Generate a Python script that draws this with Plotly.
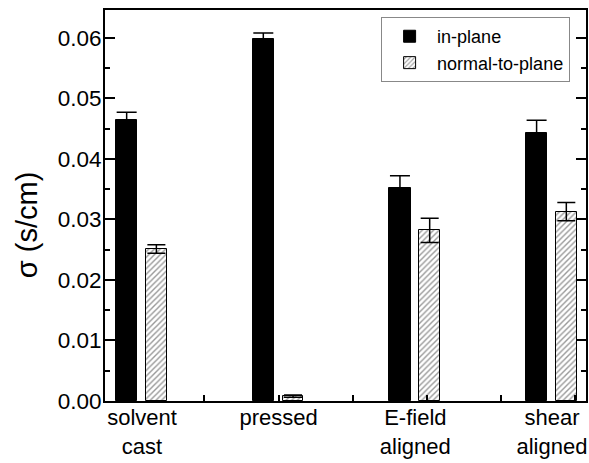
import plotly.graph_objects as go

categories = ["solvent<br>cast", "pressed", "E-field<br>aligned", "shear<br>aligned"]
positions = [1, 2, 3, 4]
in_plane = [0.0465, 0.0598, 0.0352, 0.0443]
in_plane_err = [0.0012, 0.0010, 0.0020, 0.0021]
normal = [0.0251, 0.0008, 0.0282, 0.0313]
normal_err = [0.0007, 0.0002, 0.0020, 0.0015]
ytick_vals = [0.0, 0.01, 0.02, 0.03, 0.04, 0.05, 0.06]

font = "Liberation Sans, Arial, sans-serif"

fig = go.Figure()
fig.add_trace(go.Bar(
    x=positions, y=in_plane, name="in-plane",
    width=0.155, offset=-0.19,
    marker=dict(color="black", line=dict(color="black", width=1)),
    error_y=dict(type="data", array=in_plane_err, color="black", thickness=1.5, width=10),
))
fig.add_trace(go.Bar(
    x=positions, y=normal, name="normal-to-plane",
    width=0.15, offset=0.03,
    marker=dict(color="white", line=dict(color="black", width=1),
                pattern=dict(shape="/", fgcolor="#333333", bgcolor="white", size=4, solidity=0.35)),
    error_y=dict(type="data", array=normal_err, color="black", thickness=1.5, width=9),
))

fig.update_layout(
    width=589, height=463,
    margin=dict(l=105, r=3, t=10, b=62),
    paper_bgcolor="white", plot_bgcolor="white",
    font=dict(family=font, color="black", size=22),
    showlegend=True,
    legend=dict(x=0.574, y=0.982, xanchor="left", yanchor="top",
                bordercolor="#888888", borderwidth=1, bgcolor="white",
                font=dict(size=18, family=font), itemwidth=45,
                tracegroupgap=0),
    bargap=0,
    annotations=[dict(text="σ (s/cm)", textangle=-90, xref="paper", yref="paper",
                      x=-0.162, y=0.45, xanchor="center", yanchor="middle",
                      showarrow=False, font=dict(size=29, family=font, color="black"))],
)
fig.update_xaxes(
    range=[0.729, 4.249], automargin=False,
    tickmode="array", tickvals=positions, ticktext=categories,
    ticks="", showline=True, linecolor="black", linewidth=2, mirror=True,
    showgrid=False, zeroline=False, ticklabeloverflow="allow", ticklabelstandoff=-4,
    tickfont=dict(size=22, family=font),
    minor=dict(tickmode="linear", tick0=2, dtick=0.543, ticks="inside", ticklen=6,
               tickwidth=1.5, tickcolor="black", showgrid=False),
)
fig.update_yaxes(
    range=[0, 0.0646], automargin=False,
    tickmode="array", tickvals=ytick_vals, tickformat=".2f",
    ticks="inside", ticklen=10, tickwidth=1.5, tickcolor="black",
    showline=True, linecolor="black", linewidth=2, mirror="ticks",
    showgrid=False, zeroline=False, ticklabelstandoff=-3,
    minor=dict(tickmode="linear", tick0=0.005, dtick=0.01, ticks="inside", ticklen=5,
               tickwidth=1.5, tickcolor="black", showgrid=False),
    tickfont=dict(size=22.5, family=font),
)

fig.write_html("out.html")
